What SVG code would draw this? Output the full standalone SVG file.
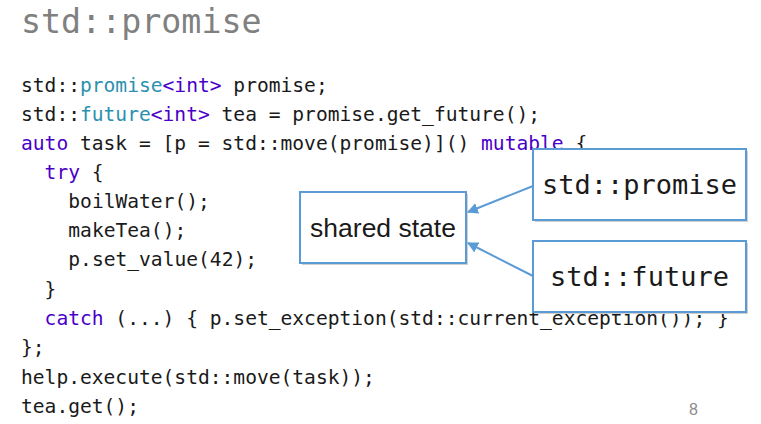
<svg xmlns="http://www.w3.org/2000/svg" width="761" height="424" viewBox="0 0 761 424">
<defs>
<style>
.code{font-family:"DejaVu Sans Mono","Liberation Mono",monospace;font-size:19.6px;fill:#1a1a1a}
.kw{fill:#4a00c8}
.ty{fill:#2b91af}
.title{font-family:"DejaVu Sans Mono","Liberation Mono",monospace;font-size:33.3px;fill:#808080}
.box{fill:#ffffff;stroke:#5b9bd5;stroke-width:2}
.shadow{fill:#d0d0d0}
.lbl{font-family:"DejaVu Sans Mono","Liberation Mono",monospace;font-size:27px;fill:#1a1a1a;text-anchor:middle}
.lbls{font-family:"Liberation Sans","Open Sans",sans-serif;font-size:26.5px;fill:#1a1a1a;text-anchor:middle}
.conn{stroke:#5b9bd5;stroke-width:2;fill:none;marker-end:url(#arr)}
.pg{font-family:"Liberation Sans",sans-serif;font-size:16px;fill:#8c8c8c}
</style>
<marker id="arr" viewBox="0 0 10 10" refX="9" refY="5" markerWidth="5.5" markerHeight="5.5" orient="auto" markerUnits="strokeWidth">
<path d="M0,0 L10,5 L0,10 z" fill="#5b9bd5"/>
</marker>
</defs>
<rect width="761" height="424" fill="#ffffff"/>
<text class="title" x="21" y="33">std::promise</text>
<g id="code">
<text class="code" x="21" y="92">std::<tspan class="ty">promise</tspan><tspan class="kw">&lt;int&gt;</tspan> promise;</text>
<text class="code" x="21" y="121">std::<tspan class="ty">future</tspan><tspan class="kw">&lt;int&gt;</tspan> tea = promise.get_future();</text>
<text class="code" x="21" y="150"><tspan class="kw">auto</tspan> task = [p = std::move(promise)]() <tspan class="kw">mutable</tspan> {</text>
<text class="code" x="44.6" y="179"><tspan class="kw">try</tspan> {</text>
<text class="code" x="68.3" y="208">boilWater();</text>
<text class="code" x="68.3" y="237">makeTea();</text>
<text class="code" x="68.3" y="266">p.set_value(42);</text>
<text class="code" x="44.6" y="296">}</text>
<text class="code" x="44.6" y="325"><tspan class="kw">catch</tspan> (...) { p.set_exception(std::current_exception()); }</text>
<text class="code" x="21" y="354">};</text>
<text class="code" x="21" y="384">help.execute(std::move(task));</text>
<text class="code" x="21" y="413">tea.get();</text>
</g>
<g id="node-shared-state">
<rect class="shadow" x="302" y="194" width="166" height="71"/>
<rect class="box" x="300" y="192" width="166" height="71"/>
<text class="lbls" x="383" y="237">shared state</text>
</g>
<g id="node-promise">
<rect class="shadow" x="535" y="151" width="213" height="71"/>
<rect class="box" x="533" y="149" width="213" height="71"/>
<text class="lbl" x="639.5" y="194">std::promise</text>
</g>
<g id="node-future">
<rect class="shadow" x="535" y="243" width="213" height="71"/>
<rect class="box" x="533" y="241" width="213" height="71"/>
<text class="lbl" x="639.5" y="286">std::future</text>
</g>
<g id="connectors">
<path class="conn" d="M533,186 L468,212"/>
<path class="conn" d="M533,276 L468,243"/>
</g>
<text class="pg" x="689" y="415">8</text>
</svg>
